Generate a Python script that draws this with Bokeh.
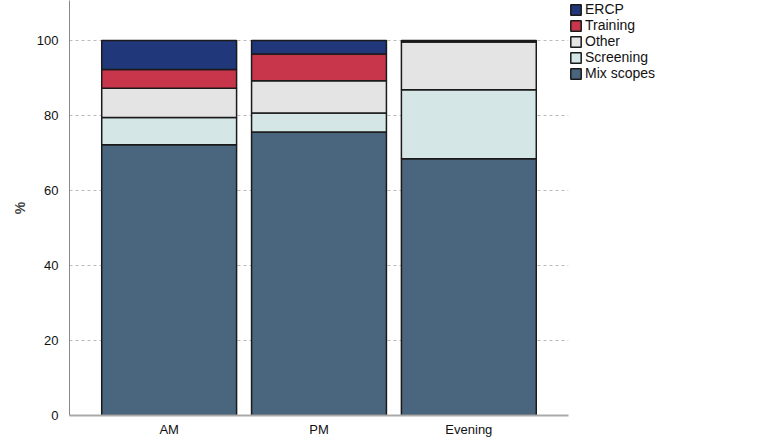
from bokeh.plotting import figure
from bokeh.models import Range1d, FactorRange, Legend, LegendItem
from bokeh.embed import file_html
from bokeh.resources import INLINE

periods = ["AM", "PM", "Evening"]
mix_scopes = [72.2, 75.6, 68.5]
screening = [7.3, 5.1, 18.4]
other = [7.8, 8.6, 12.7]
training = [5.0, 7.1, 0.3]
ercp = [7.7, 3.6, 0.1]
y_ticks = [0, 20, 40, 60, 80, 100]

series = ["Mix scopes", "Screening", "Other", "Training", "ERCP"]
colors = ["#4a667e", "#d4e6e6", "#e4e4e4", "#c8364b", "#203779"]

data = {"period": periods, "Mix scopes": mix_scopes, "Screening": screening,
        "Other": other, "Training": training, "ERCP": ercp}

p = figure(x_range=FactorRange(*periods, range_padding=0.165, range_padding_units="absolute"),
           y_range=Range1d(0, 110.7), frame_width=499, frame_height=415,
           output_backend="svg", toolbar_location=None,
           min_border_left=69, min_border_right=0, min_border_top=0, min_border_bottom=22)

renderers = p.vbar_stack(series, x="period", width=0.9, source=data, color=colors,
                         line_color="#1a1a1a", line_width=1.5)

items = [LegendItem(label=s, renderers=[r]) for s, r in zip(series, renderers)]
legend = Legend(items=list(reversed(items)), location="top_left",
                label_text_font="Liberation Sans", label_text_font_size="14px",
                label_text_color="#111111", label_text_line_height=1.0,
                glyph_width=13, glyph_height=13, label_height=13, spacing=0,
                padding=0, margin=1, border_line_color=None, background_fill_alpha=0,
                label_standoff=3)
p.add_layout(legend, "right")

p.yaxis.ticker = y_ticks
p.yaxis.axis_label = "%"
p.yaxis.axis_label_text_font = "Liberation Sans"
p.yaxis.axis_label_text_font_style = "bold"
p.yaxis.axis_label_text_font_size = "14px"
p.yaxis.axis_label_standoff = 6
p.axis.major_label_text_font = "Liberation Sans"
p.axis.major_label_text_font_size = "13px"
p.axis.major_label_text_color = "#111111"
p.axis.major_tick_line_color = None
p.axis.minor_tick_line_color = None
p.yaxis.axis_line_color = "#888888"
p.xaxis.axis_line_color = "#aaaaaa"
p.xaxis.axis_line_width = 2
p.yaxis.major_label_standoff = 5
p.xaxis.major_label_standoff = 0

p.xgrid.grid_line_color = None
p.ygrid.grid_line_color = "#bbbbbb"
p.ygrid.grid_line_dash = "3 3"
p.outline_line_color = None

open("out.html", "w").write(file_html(p, INLINE))
